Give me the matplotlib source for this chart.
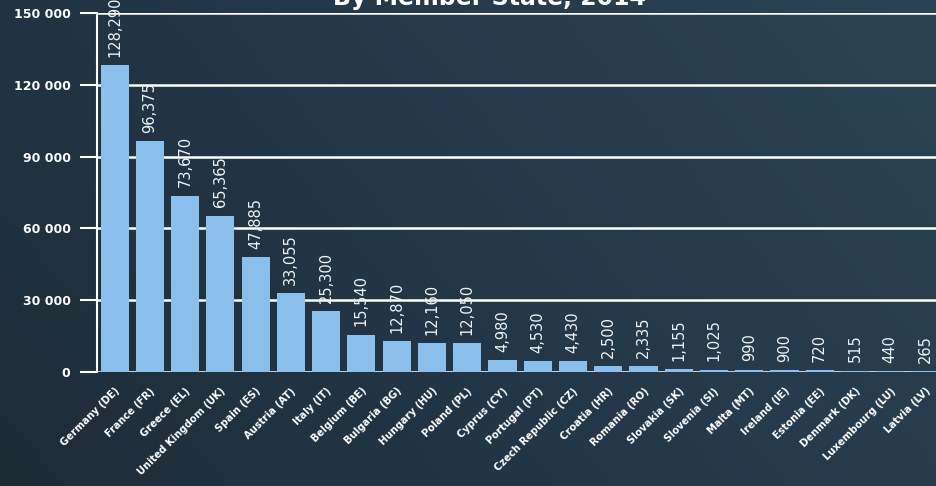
import numpy as np
import matplotlib
matplotlib.use("Agg")
import matplotlib.pyplot as plt
from matplotlib.colors import LinearSegmentedColormap

countries = ["Germany (DE)", "France (FR)", "Greece (EL)", "United Kingdom (UK)", "Spain (ES)",
             "Austria (AT)", "Italy (IT)", "Belgium (BE)", "Bulgaria (BG)", "Hungary (HU)",
             "Poland (PL)", "Cyprus (CY)", "Portugal (PT)", "Czech Republic (CZ)", "Croatia (HR)",
             "Romania (RO)", "Slovakia (SK)", "Slovenia (SI)", "Malta (MT)", "Ireland (IE)",
             "Estonia (EE)", "Denmark (DK)", "Luxembourg (LU)", "Latvia (LV)"]
values = [128290, 96375, 73670, 65365, 47885, 33055, 25300, 15540, 12870, 12160,
          12050, 4980, 4530, 4430, 2500, 2335, 1155, 1025, 990, 900,
          720, 515, 440, 265]
yticks = [0, 30000, 60000, 90000, 120000, 150000]

BAR = "#89bfea"
FG = "white"

fig = plt.figure(figsize=(9.36, 4.86), dpi=100)

# dark gradient background
bg = fig.add_axes([0, 0, 1, 1], zorder=-10)
cmap = LinearSegmentedColormap.from_list("bg", ["#1e2c36", "#24384a", "#2b4352"])
gx, gy = np.meshgrid(np.linspace(0, 1, 200), np.linspace(0, 1, 100))
bg.imshow(0.7 * gx + 0.3 * gy, cmap=cmap, aspect="auto", extent=[0, 1, 0, 1], origin="lower")
bg.axis("off")

ax = fig.add_axes([97 / 936, 114 / 486, 1 - 97 / 936, 359 / 486])
ax.patch.set_alpha(0)
x = np.arange(len(countries))
ax.bar(x, values, width=0.8, color=BAR, zorder=3)

for xi, v in zip(x, values):
    ax.annotate(f"{v:,}", (xi, v), xytext=(0, 6), textcoords="offset points",
                rotation=90, ha="center", va="bottom", color="#eef2f5", fontsize=10.5,
                annotation_clip=False, zorder=4)

ax.set_xlim(-0.5, 23.3)
ax.set_ylim(0, 150000)
ax.set_yticks(yticks)
ax.set_yticklabels([f"{t:,}".replace(",", " ") for t in yticks], color=FG,
                   fontsize=9, fontweight="bold")
ax.tick_params(axis="y", length=12, width=1.5, color=FG, pad=7)
ax.grid(axis="y", color=FG, linewidth=1.8, zorder=1)

ax.set_xticks(x)
ax.set_xticklabels(countries, rotation=45, ha="right", rotation_mode="anchor",
                   color=FG, fontsize=7.2, fontweight="bold")
ax.tick_params(axis="x", length=0, pad=10)

for s in ["top", "right", "bottom"]:
    ax.spines[s].set_visible(False)
ax.spines["left"].set_color(FG)
ax.spines["left"].set_linewidth(1.5)

fig.text(0.523, 1 - 5 / 486, "By Member State, 2014", color=FG, fontsize=17,
         fontweight="bold", ha="center", va="baseline")

fig.savefig("out.png", dpi=100)
